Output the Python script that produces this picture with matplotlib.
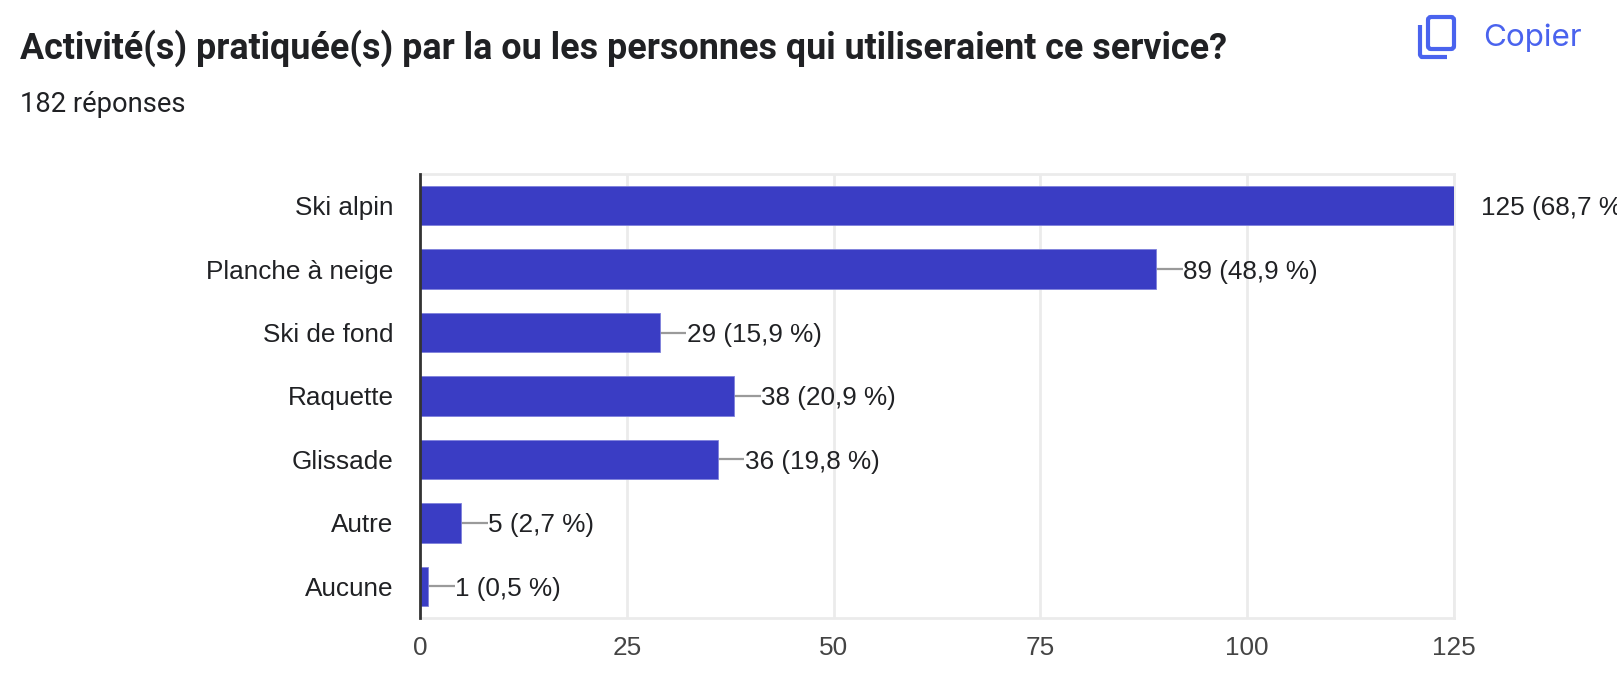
import matplotlib
matplotlib.use("Agg")
import matplotlib.pyplot as plt
from matplotlib.patches import FancyBboxPatch
from matplotlib.lines import Line2D
from matplotlib.transforms import Bbox, IdentityTransform

W, H = 1624, 699

categories = ["Ski alpin", "Planche à neige", "Ski de fond", "Raquette", "Glissade", "Autre", "Aucune"]
counts = [125, 89, 29, 38, 36, 5, 1]
labels = ["125 (68,7 %)", "89 (48,9 %)", "29 (15,9 %)", "38 (20,9 %)", "36 (19,8 %)", "5 (2,7 %)", "1 (0,5 %)"]
x_ticks = [0, 25, 50, 75, 100, 125]

BAR = "#3a3dc4"
BLUE = "#4a63ee"
GRID = "#ebebeb"
DARK = "#202124"

fig = plt.figure(figsize=(W / 100, H / 100), dpi=100, facecolor="white")
ax = fig.add_axes([420 / W, 1 - 618 / H, 1034 / W, 444 / H])

ax.barh(range(len(counts)), counts, height=0.62, color=BAR, edgecolor="#7f81dc", linewidth=0.6, zorder=3)

# connector + value label next to each bar
for i, (v, lab) in enumerate(zip(counts, labels)):
    ax.plot([v, v + 3.2], [i, i], color="#9a9a9a", lw=1.6, zorder=2, solid_capstyle="butt")
    t = ax.text(v + 3.25, i, lab, va="center_baseline", ha="left", fontsize=18.8,
                family="Liberation Sans", color=DARK, zorder=4)
    t.set_clip_on(True)
    t.set_clip_box(Bbox([[0, 0], [1617, H]]))

ax.set_xlim(0, 125)
ax.set_ylim(6.5, -0.5)
ax.set_xticks(x_ticks)
ax.set_yticks(range(len(categories)))
ax.set_yticklabels(categories, family="Liberation Sans", fontsize=18.8, color=DARK)
ax.set_xticklabels([str(x) for x in x_ticks], family="Liberation Sans", fontsize=18.8, color="#444444")
ax.tick_params(axis="both", length=0)
ax.tick_params(axis="y", pad=19)
ax.tick_params(axis="x", pad=13)
ax.grid(axis="x", color=GRID, lw=2, zorder=0)
ax.set_axisbelow(True)

for side in ["top", "right", "bottom"]:
    ax.spines[side].set_color(GRID)
    ax.spines[side].set_linewidth(2)
ax.spines["left"].set_color("#333333")
ax.spines["left"].set_linewidth(2)
ax.spines["left"].set_zorder(5)

fig.text(20 / W, 1 - 48 / H, "Activité(s) pratiquée(s) par la ou les personnes qui utiliseraient ce service?",
         family="Roboto", weight="bold", fontsize=25.8, color=DARK, va="center")
fig.text(20 / W, 1 - 105 / H, "182 réponses", family="Roboto", fontsize=19.7, color=DARK, va="center")
fig.text(1483 / W, 1 - 38 / H, "Copier", family="Inter", fontsize=22.6, color=BLUE, va="center")

# copy icon, pixel coordinates
front = FancyBboxPatch((1428, H - 49), 26, 32, boxstyle="round,pad=0,rounding_size=3",
                       fill=False, edgecolor=BLUE, lw=3, transform=IdentityTransform())
back = Line2D([1420, 1420, 1421.5, 1447], [H - 25, H - 55, H - 57, H - 57], color=BLUE, lw=3,
              transform=IdentityTransform(), solid_capstyle="butt")
fig.add_artist(front)
fig.add_artist(back)

fig.savefig("out.png", dpi=100)
